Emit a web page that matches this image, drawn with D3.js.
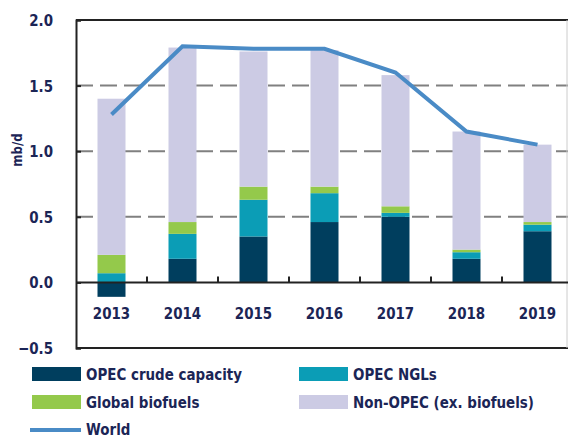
<!DOCTYPE html>
<html>
<head>
<meta charset="utf-8">
<script src="https://cdn.jsdelivr.net/npm/d3@7"></script>
<style>
  body { margin: 0; background: #fff; }
  text { font-family: "DejaVu Sans", sans-serif; font-weight: bold; fill: #1b2556; }
</style>
</head>
<body>
<div id="container"></div>
<script>
var w = 568,
    h = 437;

// data (mb/d)
var years = ['2013', '2014', '2015', '2016', '2017', '2018', '2019'];
var opecCrude = [-0.11, 0.18, 0.35, 0.46, 0.50, 0.18, 0.39];
var opecNgls = [0.07, 0.19, 0.28, 0.22, 0.03, 0.05, 0.05];
var biofuels = [0.14, 0.09, 0.10, 0.05, 0.05, 0.02, 0.02];
var nonOpec = [1.19, 1.33, 1.03, 1.04, 1.00, 0.90, 0.59];
var world = [1.28, 1.80, 1.78, 1.78, 1.60, 1.15, 1.05];
var yTicks = [-0.5, 0, 0.5, 1.0, 1.5, 2.0];

var seriesNames = ['OPEC crude capacity', 'OPEC NGLs', 'Global biofuels', 'Non-OPEC (ex. biofuels)'];
var seriesValues = [opecCrude, opecNgls, biofuels, nonOpec];
var colors = ['#003e5e', '#0b9db6', '#94c94b', '#cccbe4'];

var mLeft = 76, mTop = 20, plotW = 497, mBottom = 348;
var squeeze = 0.84; // narrow-font look

var svg = d3.select('#container')
    .append('svg')
    .attr('width', w)
    .attr('height', h);

// text with a horizontal squeeze around its anchor point
var label = function(parent, tx, ty, str, size, anchor) {
    return parent.append('text')
        .attr('transform', 'translate(' + tx + ',' + ty + ') scale(' + squeeze + ',1)')
        .attr('text-anchor', anchor || 'start')
        .attr('font-size', size)
        .text(str);
};

var x = d3.scaleBand().domain(years).range([mLeft, mLeft + plotW]);
var y = d3.scaleLinear().domain([-0.5, 2.0]).range([mBottom, mTop]);

// gridlines
svg.selectAll('.grid')
    .data([0.5, 1.0, 1.5])
    .enter().append('line')
    .attr('x1', mLeft).attr('x2', w)
    .attr('y1', function(d) { return y(d); })
    .attr('y2', function(d) { return y(d); })
    .attr('stroke', '#808080')
    .attr('stroke-width', 2)
    .attr('stroke-dasharray', '17,7');

// stack: positives from 0 up, negatives from 0 down
var stacked = [];
years.forEach(function(yr, i) {
    var pos = 0, neg = 0;
    seriesValues.forEach(function(vals, s) {
        var v = vals[i], y0, y1;
        if (v >= 0) { y0 = pos; y1 = pos + v; pos = y1; }
        else { y0 = neg + v; y1 = neg; neg = y0; }
        stacked.push({ year: yr, s: s, y0: y0, y1: y1 });
    });
});

var bw = 28;
svg.selectAll('.bar')
    .data(stacked)
    .enter().append('rect')
    .attr('class', 'bar')
    .attr('x', function(d) { return x(d.year) + x.bandwidth() / 2 - bw / 2; })
    .attr('width', bw)
    .attr('y', function(d) { return y(d.y1); })
    .attr('height', function(d) { return y(d.y0) - y(d.y1); })
    .attr('fill', function(d) { return colors[d.s]; });

// frame
svg.append('line').attr('x1', mLeft).attr('x2', w).attr('y1', mTop).attr('y2', mTop)
    .attr('stroke', '#222').attr('stroke-width', 2);
svg.append('line').attr('x1', mLeft).attr('x2', w).attr('y1', mBottom).attr('y2', mBottom)
    .attr('stroke', '#222').attr('stroke-width', 2);
svg.append('line').attr('x1', 567).attr('x2', 567).attr('y1', mTop).attr('y2', mBottom)
    .attr('stroke', '#ccc').attr('stroke-width', 1);

// y axis (ticks inside, labels drawn separately)
var yAxis = svg.append('g')
    .attr('transform', 'translate(' + mLeft + ',0)')
    .call(d3.axisLeft(y).tickValues(yTicks).tickSize(-5).tickFormat(''));
yAxis.select('.domain').attr('stroke', '#222').attr('stroke-width', 2);
yAxis.selectAll('.tick line').attr('stroke', '#222').attr('stroke-width', 2);

var fmt = d3.format('.1f');
yTicks.forEach(function(t) {
    label(svg, 53, y(t) + 6, fmt(t), 16, 'end');
});

// zero line with ticks between years
svg.append('line').attr('x1', mLeft).attr('x2', w).attr('y1', y(0)).attr('y2', y(0))
    .attr('stroke', '#222').attr('stroke-width', 2);
svg.selectAll('.xtick')
    .data(years.slice(1))
    .enter().append('line')
    .attr('x1', function(d) { return x(d); })
    .attr('x2', function(d) { return x(d); })
    .attr('y1', y(0)).attr('y2', y(0) - 6)
    .attr('stroke', '#222').attr('stroke-width', 2);

years.forEach(function(yr) {
    label(svg, x(yr) + x.bandwidth() / 2, 319, yr, 16, 'middle');
});

// world line
var line = d3.line()
    .x(function(d, i) { return x(years[i]) + x.bandwidth() / 2; })
    .y(function(d) { return y(d); });
svg.append('path')
    .datum(world)
    .attr('d', line)
    .attr('fill', 'none')
    .attr('stroke', '#4a8bc6')
    .attr('stroke-width', 4);

// axis title
svg.append('text')
    .attr('transform', 'translate(22,150) rotate(-90) scale(' + squeeze + ',1)')
    .attr('text-anchor', 'middle')
    .attr('font-size', 14)
    .text('mb/d');

// legend
var legendPos = [[32, 374], [299, 374], [32, 402], [299, 402]];
seriesNames.forEach(function(name, i) {
    var p = legendPos[i];
    svg.append('rect').attr('x', p[0]).attr('y', p[1] - 7).attr('width', 49).attr('height', 14)
        .attr('fill', colors[i]);
    label(svg, p[0] + 54, p[1] + 6, name, 16);
});
svg.append('line').attr('x1', 30).attr('x2', 81).attr('y1', 430).attr('y2', 430)
    .attr('stroke', '#4a8bc6').attr('stroke-width', 4);
label(svg, 86, 435, 'World', 16);
</script>
</body>
</html>
